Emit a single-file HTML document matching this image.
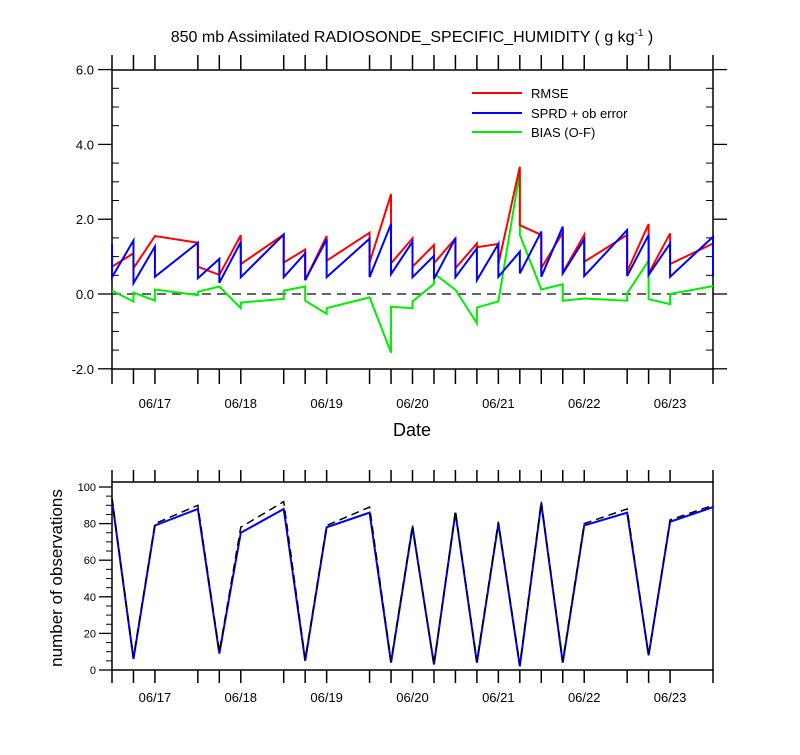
<!DOCTYPE html>
<html><head><meta charset="utf-8"><style>
body{margin:0;background:#fff;}
svg text{font-family:"Liberation Sans",sans-serif;fill:#000;}
</style></head><body>
<svg id="c" width="800" height="750" xmlns="http://www.w3.org/2000/svg">
<text x="412" y="42" text-anchor="middle" font-size="16">850 mb Assimilated RADIOSONDE_SPECIFIC_HUMIDITY ( g kg<tspan dy="-6" font-size="10">-1</tspan><tspan dy="6"> )</tspan></text>
<text x="412" y="436" text-anchor="middle" font-size="18">Date</text>
<text transform="translate(62,578) rotate(-90)" text-anchor="middle" font-size="17">number of observations</text>
<g id="g"></g>
</svg>
<script>
const hours=[0,6,12,24,30,36,48,54,60,72,78,84,90,96,102,108,114,120,126,132,144,150,156,168];
const dayLabels=["06/17","06/18","06/19","06/20","06/21","06/22","06/23"];
const dayHours=[12,36,60,84,108,132,156];
const rmsePrior=[0.73,1.09,1.55,1.37,0.51,1.57,1.59,1.19,1.55,1.64,2.67,1.49,1.31,1.49,1.35,1.34,3.40,1.58,1.64,1.58,1.58,1.87,1.62,1.35];
const rmsePost=[0.73,0.69,1.55,0.73,0.51,0.80,0.84,0.37,0.89,0.84,0.82,0.73,0.82,0.69,1.25,0.80,1.84,0.69,0.57,0.86,0.60,0.55,0.80,1.35];
const sprdPrior=[1.34,1.43,1.27,1.37,0.94,1.39,1.59,1.09,1.46,1.48,1.87,1.40,1.02,1.49,1.22,1.34,1.13,1.67,1.80,1.46,1.71,1.58,1.35,1.53];
const sprdPost=[0.45,0.29,0.46,0.42,0.30,0.45,0.45,0.37,0.45,0.45,0.53,0.45,0.40,0.45,0.37,0.46,0.55,0.46,0.55,0.48,0.48,0.51,0.46,0.46];
const biasPrior=[0.09,-0.20,-0.18,-0.03,0.20,-0.38,-0.13,0.20,-0.53,-0.09,-1.57,-0.38,0.27,0.11,-0.78,-0.20,3.27,0.12,0.26,-0.12,-0.18,0.89,-0.27,0.21];
const biasPost=[0.09,0.04,0.12,0.06,0.20,-0.23,0.09,-0.18,-0.38,-0.09,-0.34,-0.20,0.55,0.11,-0.36,-0.20,1.58,0.12,-0.18,-0.12,0.02,-0.14,0.00,0.21];
const obsUsed=[93,6,79,88,9,75,88,5,78,86,4,78,3,86,4,80,2,91,4,79,86,8,81,89];
const obsPossible=[94,7,80,90,10,78,92,6,79,89,5,79,3,87,5,81,3,92,5,80,88,8,82,90];
const topTicks=[-2,0,2,4,6];
const botTicks=[0,20,40,60,80,100];

const NS="http://www.w3.org/2000/svg",G=document.getElementById('g');
const X0=112,X1=713;
const xs=h=>X0+(X1-X0)*h/168;
const yT=v=>294-v*37.4;
const yB=v=>670-v*1.83;
function el(t,a,p){const e=document.createElementNS(NS,t);for(const k in a)e.setAttribute(k,a[k]);(p||G).appendChild(e);return e;}
function line(x1,y1,x2,y2,w,c){return el('line',{x1,y1,x2,y2,stroke:c||'#000','stroke-width':w||1});}
function txt(x,y,s,anchor,size){const t=el('text',{x,y,'text-anchor':anchor||'middle','font-size':size||13});t.textContent=s;return t;}

// top frame
const f1=el('rect',{x:X0,y:70,width:X1-X0,height:299,fill:'none',stroke:'#000','stroke-width':1.5});


for(let v=-2;v<=6.001;v+=0.5){const y=yT(v);
 if(Math.abs(v-Math.round(v/2)*2)<1e-6){line(X0-14,y,X0,y,1.3);line(X1,y,X1+14,y,1.3);}
 else{line(X0,y,X0+7,y,1);line(X1-7,y,X1,y,1);}}
topTicks.forEach(v=>{const t=txt(X0-18,yT(v)+5,v.toFixed(1),'end',13);
 
 });
hours.forEach(h=>{const x=xs(h);line(x,55,x,70,1.5);line(x,369,x,384,1.5);});
dayLabels.forEach((s,i)=>{const t=txt(xs(dayHours[i]),408,s,'middle',13);
 
 });
const z=el('line',{x1:X0,y1:yT(0),x2:X1,y2:yT(0),stroke:'#333','stroke-width':1.5,'stroke-dasharray':'9,6'});



function saw(pri,post,col,name){let d='';hours.forEach((h,i)=>{const x=xs(h);d+=(i?'L':'M')+x+','+yT(pri[i])+'L'+x+','+yT(post[i]);});
 const p=el('path',{d,fill:'none',stroke:col,'stroke-width':2,'stroke-linejoin':'miter'});
 
 }
saw(biasPrior,biasPost,'#00ee00','bias-line');
saw(rmsePrior,rmsePost,'#ff0000','rmse-line');
saw(sprdPrior,sprdPost,'#0000ff','sprd-line');

[['RMSE','#ff0000',93],['SPRD + ob error','#0000ff',113],['BIAS (O-F)','#00ee00',132]].forEach(([s,c,y])=>{
 const g=el('g',{});
 el('line',{x1:472,y1:y,x2:522,y2:y,stroke:c,'stroke-width':2},g);
 const t=el('text',{x:531,y:y+5,'font-size':13},g);t.textContent=s;});

// bottom frame
const f2=el('rect',{x:X0,y:482,width:X1-X0,height:188,fill:'none',stroke:'#000','stroke-width':1.5});


for(let v=0;v<=100;v+=5){const y=yB(v);
 if(v%20===0)line(X0-13,y,X0,y,1.3);else line(X0-6,y,X0,y,1);}
botTicks.forEach(v=>{const t=txt(X0-16,yB(v)+4,String(v),'end',11);
 
 });
hours.forEach(h=>{const x=xs(h);line(x,470,x,482,1.5);line(x,670,x,683,1.5);});
dayLabels.forEach((s,i)=>{const t=txt(xs(dayHours[i]),702,s,'middle',13);
 
 });
function ln(arr,col,dash,name){const d=arr.map((v,i)=>(i?'L':'M')+xs(hours[i])+','+yB(v)).join('');
 const a={d,fill:'none',stroke:col,'stroke-width':dash?1.5:2};if(dash)a['stroke-dasharray']='8,5';
 const p=el('path',a);
 
 }
ln(obsUsed,'#0000ff',false,'obs-used-line');
ln(obsPossible,'#000',true,'obs-possible-line');
</script>
</body></html>
